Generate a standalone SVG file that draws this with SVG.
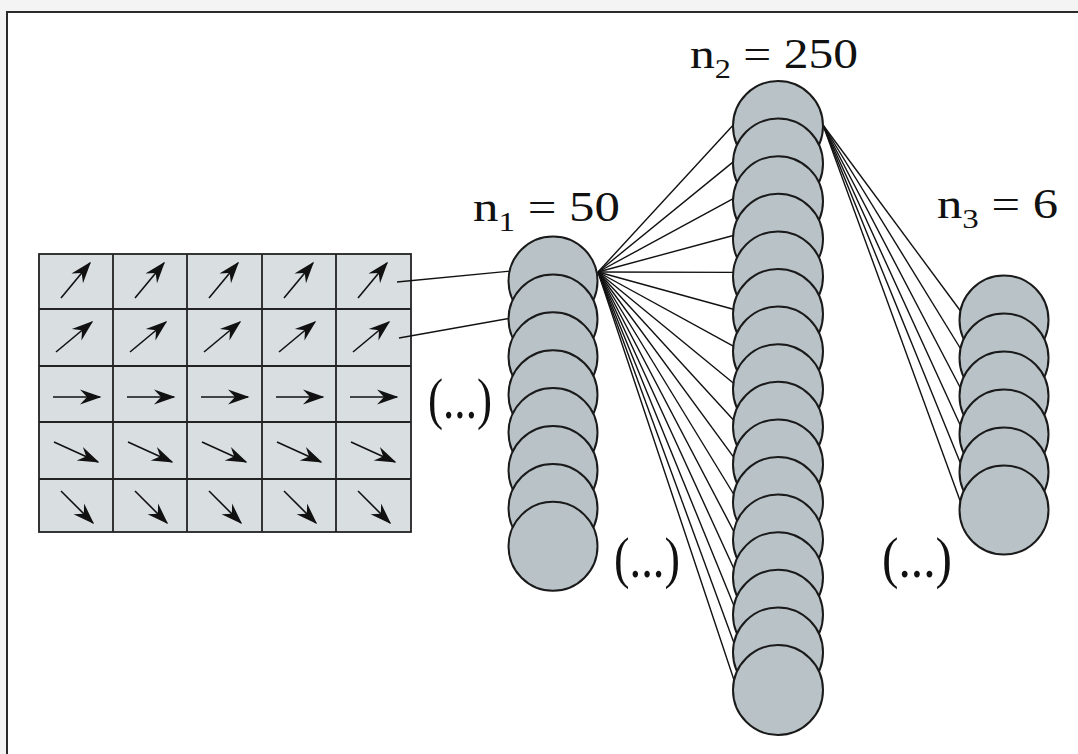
<svg xmlns="http://www.w3.org/2000/svg" xmlns:xlink="http://www.w3.org/1999/xlink" width="1078" height="754" viewBox="0 0 1078 754">
  <style>
    .cell { fill: #d9dee1; stroke: #222; stroke-width: 1.8; }
    .gl { stroke: #222; stroke-width: 1.8; fill: none; }
    .arr { stroke: #111; stroke-width: 1.6; fill: none; marker-end: url(#head); }
    .node { fill: #b9c3c7; stroke: #1a1a1a; stroke-width: 2; }
    .conn { stroke: #111; stroke-width: 1.4; fill: none; }
    .lbl { font-family: "Liberation Serif", "DejaVu Serif", serif; fill: #111; }
  </style>
  <defs>
    <marker id="head" markerUnits="userSpaceOnUse" markerWidth="26" markerHeight="18" refX="0" refY="0" viewBox="-22 -9 26 18" orient="auto" overflow="visible">
      <path d="M1.5,0 L-20,-7.5 L-13,0 L-20,7.5 Z" fill="#111"/>
    </marker>
    <line id="r1" class="arr" x1="22" y1="44" x2="51" y2="9"/>
    <line id="r2" class="arr" x1="17" y1="43" x2="53" y2="13"/>
    <line id="r3" class="arr" x1="14" y1="31" x2="61" y2="31"/>
    <line id="r4" class="arr" x1="15" y1="20" x2="59" y2="40"/>
    <line id="r5" class="arr" x1="22" y1="12" x2="54" y2="44"/>
  </defs>

  <rect x="0" y="0" width="1078" height="754" fill="#f4f4f4"/>
  <rect x="7" y="12" width="1090" height="760" fill="#ffffff" stroke="#2a2a2a" stroke-width="2"/>

  <g id="input-grid">
    <rect class="cell" x="39" y="254" width="372" height="278"/>
    <path class="gl" d="M113,254 V532 M187,254 V532 M262,254 V532 M336,254 V532 M39,309 H411 M39,366 H411 M39,422 H411 M39,479 H411"/>
    <g transform="translate(39,254)"><use xlink:href="#r1"/></g>
    <g transform="translate(113,254)"><use xlink:href="#r1"/></g>
    <g transform="translate(187,254)"><use xlink:href="#r1"/></g>
    <g transform="translate(262,254)"><use xlink:href="#r1"/></g>
    <g transform="translate(336,254)"><use xlink:href="#r1"/></g>
    <g transform="translate(39,309)"><use xlink:href="#r2"/></g>
    <g transform="translate(113,309)"><use xlink:href="#r2"/></g>
    <g transform="translate(187,309)"><use xlink:href="#r2"/></g>
    <g transform="translate(262,309)"><use xlink:href="#r2"/></g>
    <g transform="translate(336,309)"><use xlink:href="#r2"/></g>
    <g transform="translate(39,366)"><use xlink:href="#r3"/></g>
    <g transform="translate(113,366)"><use xlink:href="#r3"/></g>
    <g transform="translate(187,366)"><use xlink:href="#r3"/></g>
    <g transform="translate(262,366)"><use xlink:href="#r3"/></g>
    <g transform="translate(336,366)"><use xlink:href="#r3"/></g>
    <g transform="translate(39,422)"><use xlink:href="#r4"/></g>
    <g transform="translate(113,422)"><use xlink:href="#r4"/></g>
    <g transform="translate(187,422)"><use xlink:href="#r4"/></g>
    <g transform="translate(262,422)"><use xlink:href="#r4"/></g>
    <g transform="translate(336,422)"><use xlink:href="#r4"/></g>
    <g transform="translate(39,479)"><use xlink:href="#r5"/></g>
    <g transform="translate(113,479)"><use xlink:href="#r5"/></g>
    <g transform="translate(187,479)"><use xlink:href="#r5"/></g>
    <g transform="translate(262,479)"><use xlink:href="#r5"/></g>
    <g transform="translate(336,479)"><use xlink:href="#r5"/></g>
  </g>

  <g id="connectors">
    <line class="conn" x1="397" y1="282" x2="511" y2="271"/>
    <line class="conn" x1="399" y1="338" x2="511" y2="318"/>
    <g id="l1-to-l2">
      <line class="conn" x1="598" y1="272" x2="736" y2="122"/>
      <line class="conn" x1="598" y1="272" x2="736" y2="159.6"/>
      <line class="conn" x1="598" y1="272" x2="736" y2="197.2"/>
      <line class="conn" x1="598" y1="272" x2="736" y2="234.8"/>
      <line class="conn" x1="598" y1="272" x2="736" y2="272.4"/>
      <line class="conn" x1="598" y1="272" x2="736" y2="310"/>
      <line class="conn" x1="598" y1="272" x2="736" y2="347.6"/>
      <line class="conn" x1="598" y1="272" x2="736" y2="385.2"/>
      <line class="conn" x1="598" y1="272" x2="736" y2="422.8"/>
      <line class="conn" x1="598" y1="272" x2="736" y2="460.4"/>
      <line class="conn" x1="598" y1="272" x2="736" y2="498"/>
      <line class="conn" x1="598" y1="272" x2="736" y2="535.6"/>
      <line class="conn" x1="598" y1="272" x2="736" y2="573.2"/>
      <line class="conn" x1="598" y1="272" x2="736" y2="610.8"/>
      <line class="conn" x1="598" y1="272" x2="736" y2="648.4"/>
      <line class="conn" x1="598" y1="272" x2="736" y2="686"/>
    </g>
    <g id="l2-to-l3">
      <line class="conn" x1="823" y1="125" x2="962" y2="313"/>
      <line class="conn" x1="823" y1="125" x2="962" y2="351"/>
      <line class="conn" x1="823" y1="125" x2="962" y2="391"/>
      <line class="conn" x1="823" y1="125" x2="962" y2="429"/>
      <line class="conn" x1="823" y1="125" x2="962" y2="467"/>
      <line class="conn" x1="823" y1="125" x2="962" y2="506"/>
    </g>
  </g>

  <g id="layer1">
    <circle class="node" cx="553" cy="281" r="44.5"/>
    <circle class="node" cx="553" cy="318.9" r="44.5"/>
    <circle class="node" cx="553" cy="356.8" r="44.5"/>
    <circle class="node" cx="553" cy="394.7" r="44.5"/>
    <circle class="node" cx="553" cy="432.6" r="44.5"/>
    <circle class="node" cx="553" cy="470.5" r="44.5"/>
    <circle class="node" cx="553" cy="508.4" r="44.5"/>
    <circle class="node" cx="553" cy="546.3" r="44.5"/>
  </g>

  <g id="layer2">
    <circle class="node" cx="778" cy="126" r="45"/>
    <circle class="node" cx="778" cy="163.6" r="45"/>
    <circle class="node" cx="778" cy="201.2" r="45"/>
    <circle class="node" cx="778" cy="238.8" r="45"/>
    <circle class="node" cx="778" cy="276.4" r="45"/>
    <circle class="node" cx="778" cy="314" r="45"/>
    <circle class="node" cx="778" cy="351.6" r="45"/>
    <circle class="node" cx="778" cy="389.2" r="45"/>
    <circle class="node" cx="778" cy="426.8" r="45"/>
    <circle class="node" cx="778" cy="464.4" r="45"/>
    <circle class="node" cx="778" cy="502" r="45"/>
    <circle class="node" cx="778" cy="539.6" r="45"/>
    <circle class="node" cx="778" cy="577.2" r="45"/>
    <circle class="node" cx="778" cy="614.8" r="45"/>
    <circle class="node" cx="778" cy="652.4" r="45"/>
    <circle class="node" cx="778" cy="690" r="45"/>
  </g>

  <g id="layer3">
    <circle class="node" cx="1004" cy="320" r="44.5"/>
    <circle class="node" cx="1004" cy="358" r="44.5"/>
    <circle class="node" cx="1004" cy="396" r="44.5"/>
    <circle class="node" cx="1004" cy="434" r="44.5"/>
    <circle class="node" cx="1004" cy="472" r="44.5"/>
    <circle class="node" cx="1004" cy="510" r="44.5"/>
  </g>

  <g id="labels">
    <text class="lbl" x="690" y="68" font-size="43" textLength="168" lengthAdjust="spacingAndGlyphs">n<tspan font-size="28" dy="10">2</tspan><tspan dy="-10"> = 250</tspan></text>
    <text class="lbl" x="473" y="221" font-size="43" textLength="147" lengthAdjust="spacingAndGlyphs">n<tspan font-size="28" dy="10">1</tspan><tspan dy="-10"> = 50</tspan></text>
    <text class="lbl" x="937" y="218" font-size="43" textLength="121" lengthAdjust="spacingAndGlyphs">n<tspan font-size="28" dy="10">3</tspan><tspan dy="-10"> = 6</tspan></text>
    <text class="lbl" x="428" y="418" font-size="56" textLength="64" lengthAdjust="spacingAndGlyphs">(...)</text>
    <text class="lbl" x="614" y="577" font-size="56" textLength="66" lengthAdjust="spacingAndGlyphs">(...)</text>
    <text class="lbl" x="882" y="577" font-size="56" textLength="70" lengthAdjust="spacingAndGlyphs">(...)</text>
  </g>
</svg>
